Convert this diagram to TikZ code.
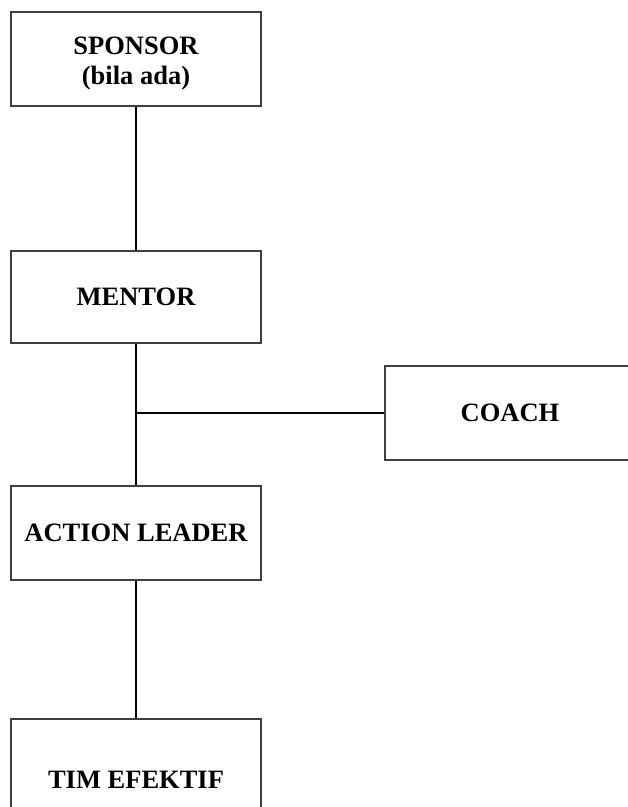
\documentclass[tikz,border=0pt]{standalone}
\usepackage{fontspec}
\setmainfont{Liberation Serif}
\begin{document}
\begin{tikzpicture}[x=1pt,y=-1pt,
  box/.style={draw=black!75,line width=1.3pt,fill=white,rectangle,inner sep=0pt,
    font=\bfseries\fontsize{26.5}{30}\selectfont,align=center},
  lbl/.style={inner sep=0pt,font=\bfseries\fontsize{26.5}{30}\selectfont,align=center},
  conn/.style={draw=black,line width=1.5pt}]
\clip (0,0) rectangle (628,807);
\fill[white] (0,0) rectangle (628,807);
\node[box,minimum width=250pt,minimum height=94pt] (sponsor) at (136,59) {};
\node[lbl] (sponsortext) at (136,64) {SPONSOR\\(bila ada)};
\node[box,minimum width=250pt,minimum height=92pt] (mentor) at (136,297) {MENTOR};
\node[box,minimum width=250pt,minimum height=94pt] (coach) at (510,413) {COACH};
\node[box,minimum width=250pt,minimum height=94pt] (action) at (136,533) {ACTION LEADER};
\node[box,minimum width=250pt,minimum height=122pt] (tim) at (136,780) {TIM EFEKTIF};
\coordinate (j) at (136,413);
\draw[conn] (sponsor.south) -- (mentor.north);
\draw[conn] (mentor.south) -- (action.north);
\draw[conn] (j) -- (coach.west);
\draw[conn] (action.south) -- (tim.north);
\end{tikzpicture}
\end{document}
